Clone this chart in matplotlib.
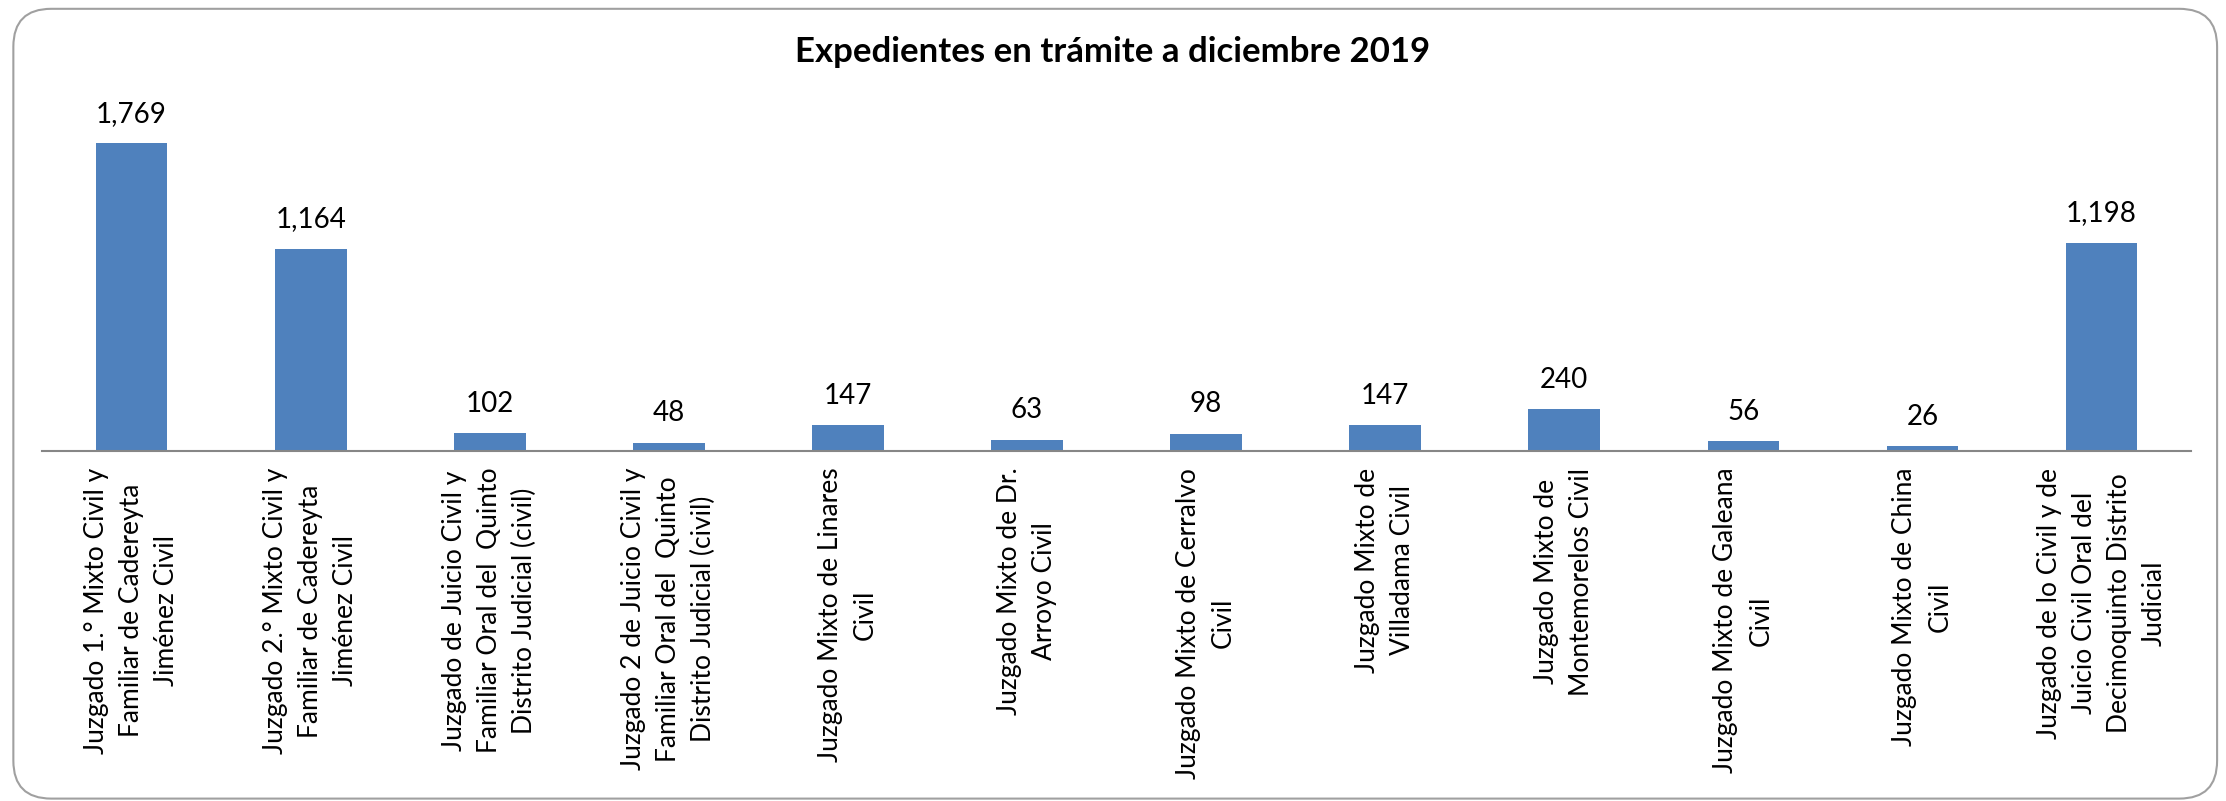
import matplotlib
matplotlib.use("Agg")
import matplotlib.pyplot as plt
from matplotlib.patches import FancyBboxPatch

# data
juzgados = [
    "Juzgado 1.° Mixto Civil y\nFamiliar de Cadereyta\nJiménez Civil",
    "Juzgado 2.° Mixto Civil y\nFamiliar de Cadereyta\nJiménez Civil",
    "Juzgado de Juicio Civil y\nFamiliar Oral del  Quinto\nDistrito Judicial (civil)",
    "Juzgado 2 de Juicio Civil y\nFamiliar Oral del  Quinto\nDistrito Judicial (civil)",
    "Juzgado Mixto de Linares\nCivil",
    "Juzgado Mixto de Dr.\nArroyo Civil",
    "Juzgado Mixto de Cerralvo\nCivil",
    "Juzgado Mixto de\nVilladama Civil",
    "Juzgado Mixto de\nMontemorelos Civil",
    "Juzgado Mixto de Galeana\nCivil",
    "Juzgado Mixto de China\nCivil",
    "Juzgado de lo Civil y de\nJuicio Civil Oral del\nDecimoquinto Distrito\nJudicial",
]
expedientes = [1769, 1164, 102, 48, 147, 63, 98, 147, 240, 56, 26, 1198]
titulo = "Expedientes en trámite a diciembre 2019"

plt.rcParams['font.family'] = ['Lato', 'DejaVu Sans']

fig = plt.figure(figsize=(22.26, 8.01), dpi=100)
ax = fig.add_axes([0.0189, 0.437, 0.9654, 0.434])

x = range(len(expedientes))
bars = ax.bar(x, expedientes, width=0.4, color="#4F81BD")
for b, v in zip(bars, expedientes):
    ax.annotate(f"{v:,}", (b.get_x() + b.get_width() / 2, v),
                xytext=(0, 12), textcoords="offset points",
                ha="center", va="bottom", fontsize=20)

ax.set_xlim(-0.5, len(expedientes) - 0.5)
ax.set_ylim(0, 2000)
ax.set_yticks([])
ax.set_xticks(list(x))
ax.set_xticklabels(juzgados, rotation=90, fontsize=19, linespacing=1.5,
                   ha="center", va="top", multialignment="center")
ax.tick_params(axis="x", length=0, pad=12)
for s in ["top", "right", "left"]:
    ax.spines[s].set_visible(False)
ax.spines["bottom"].set_color("#868686")
ax.spines["bottom"].set_linewidth(1.5)

fig.text(0.5, 0.935, titulo, ha="center", va="center",
         fontsize=25, fontweight="bold")

# rounded chart border like the spreadsheet chart area
border = FancyBboxPatch((0.006, 0.003), 0.99, 0.986,
                        boxstyle="round,pad=0,rounding_size=0.017",
                        transform=fig.transFigure, fill=False,
                        edgecolor="#A0A0A0", linewidth=1.5,
                        mutation_aspect=2226 / 801)
fig.patches.append(border)

fig.savefig("out.png", dpi=100)
